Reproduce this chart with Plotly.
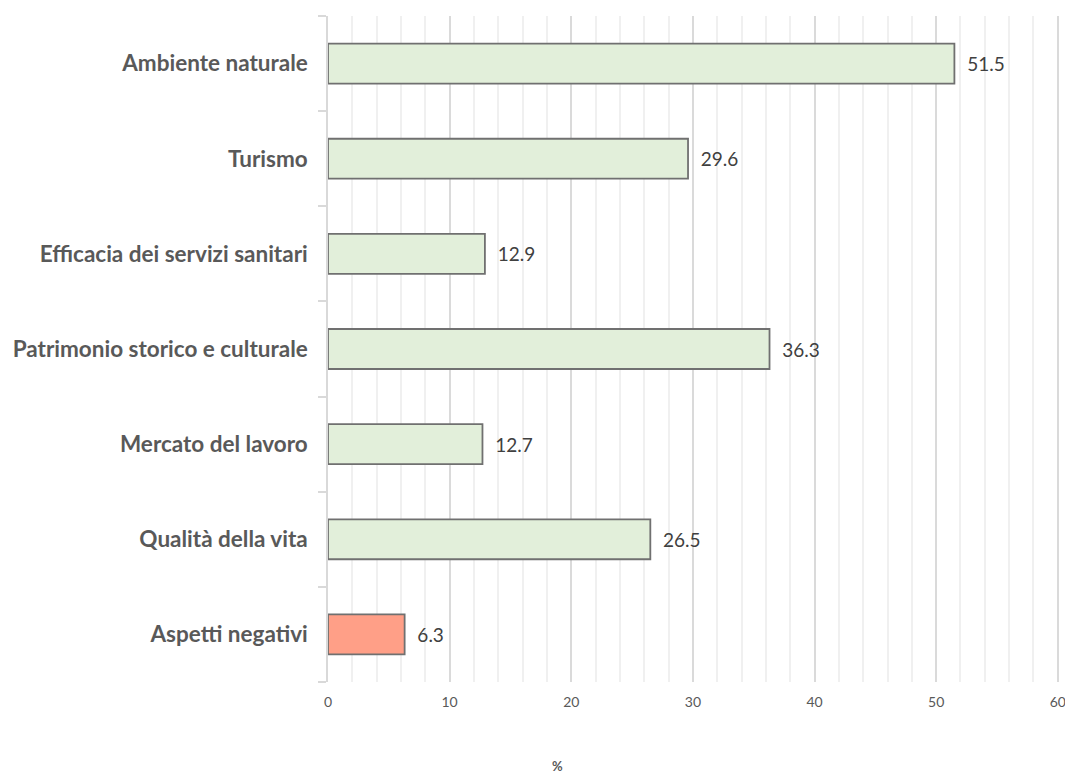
import plotly.graph_objects as go

categories = [
    "Ambiente naturale",
    "Turismo",
    "Efficacia dei servizi sanitari",
    "Patrimonio storico e culturale",
    "Mercato del lavoro",
    "Qualità della vita",
    "Aspetti negativi",
]
values = [51.5, 29.6, 12.9, 36.3, 12.7, 26.5, 6.3]
bar_colors = ["#E2EFDA"] * 6 + ["#FF9F87"]
x_ticks = [0, 10, 20, 30, 40, 50, 60]

fig = go.Figure(
    go.Bar(
        y=categories,
        x=values,
        orientation="h",
        marker=dict(color=bar_colors, line=dict(color="#707070", width=1.8)),
        width=0.42,
        # non-breaking spaces push the value labels away from the bar ends
        text=["\u00a0\u00a0" + f"{v:.1f}" for v in values],
        textposition="outside",
        textfont=dict(family="Lato", size=19, color="#404040"),
        cliponaxis=False,
    )
)

fig.update_layout(
    width=1065,
    height=778,
    margin=dict(l=328, r=6, t=16, b=96),
    plot_bgcolor="white",
    paper_bgcolor="white",
    showlegend=False,
    font=dict(family="Lato", color="#595959"),
    annotations=[
        dict(
            text="<b>%</b>",
            xref="paper",
            yref="paper",
            x=(557 - 328) / (1059 - 328),
            y=(682 - 766) / 666,
            xanchor="center",
            yanchor="middle",
            showarrow=False,
            font=dict(family="Lato", size=13, color="#595959"),
        )
    ],
)

fig.update_xaxes(
    # a little headroom past 60 keeps the last gridline from being clipped
    range=[0, 60.1],
    automargin=False,
    tickvals=x_ticks,
    ticktext=[str(t) for t in x_ticks],
    tickfont=dict(family="Lato", size=14, color="#595959"),
    ticklabelstandoff=10,
    ticklabeloverflow="allow",
    showgrid=True,
    gridcolor="#DADADA",
    gridwidth=1.5,
    zeroline=False,
    showline=False,
    ticks="",
    minor=dict(dtick=2, showgrid=True, gridcolor="#F0F0F0", gridwidth=1.5),
)

fig.update_yaxes(
    categoryorder="array",
    categoryarray=categories[::-1],
    automargin=False,
    tickson="boundaries",
    ticks="outside",
    ticklen=8,
    tickcolor="#D9D9D9",
    tickwidth=1.5,
    showline=True,
    linecolor="#D9D9D9",
    linewidth=1.5,
    showgrid=False,
    tickfont=dict(family="Lato", size=22.5, color="#595959", weight="bold"),
    ticklabelstandoff=14,
)

fig.write_html("out.html")
